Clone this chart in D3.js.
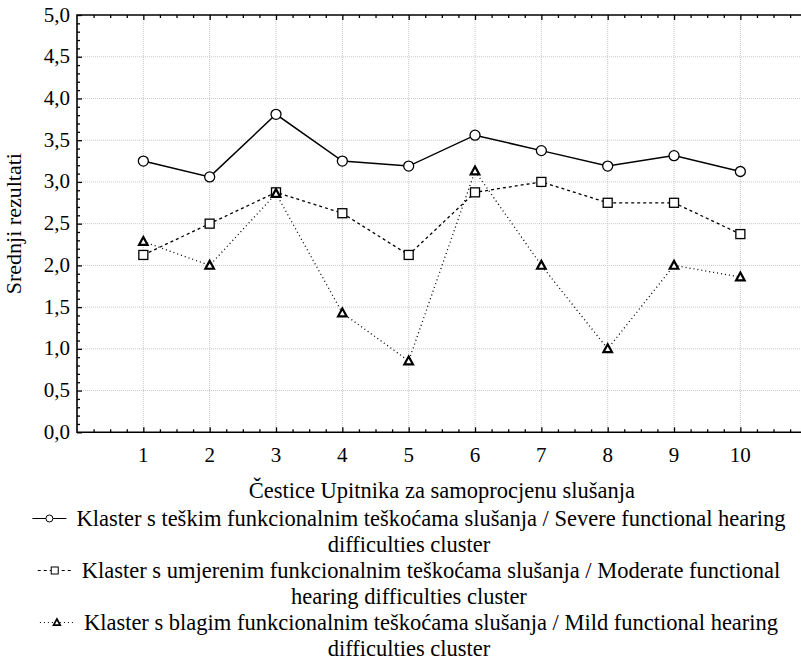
<!DOCTYPE html>
<html>
<head>
<meta charset="utf-8">
<script src="https://cdn.jsdelivr.net/npm/d3@7"></script>
<style>
  body { margin: 0; background: #fff; }
  text { font-family: "Liberation Serif", "Times New Roman", serif; fill: #000; }
  .grid line { stroke: #c8c8c8; stroke-width: 1; stroke-dasharray: 1,1; }
  .line { fill: none; stroke: #000; }
</style>
</head>
<body>
<svg id="chart" width="801" height="662"></svg>
<script>
// item numbers of the questionnaire
var items = [1, 2, 3, 4, 5, 6, 7, 8, 9, 10];

// mean scores per cluster
var severe   = [3.25, 3.06, 3.81, 3.25, 3.19, 3.56, 3.375, 3.19, 3.315, 3.125];
var moderate = [2.125, 2.5, 2.875, 2.625, 2.125, 2.875, 3.0, 2.75, 2.75, 2.375];
var mild     = [2.285, 2.0, 2.86, 1.43, 0.855, 3.13, 2.0, 1.0, 2.0, 1.86];

var yTicks = [0, 0.5, 1, 1.5, 2, 2.5, 3, 3.5, 4, 4.5, 5];

var xTitle = "Čestice Upitnika za samoprocjenu slušanja";
var yTitle = "Srednji rezultati";

var legendLines = [
  ["Klaster s teškim funkcionalnim teškoćama slušanja / Severe functional hearing", "difficulties cluster"],
  ["Klaster s umjerenim funkcionalnim teškoćama slušanja / Moderate functional", "hearing difficulties cluster"],
  ["Klaster s blagim funkcionalnim teškoćama slušanja / Mild functional hearing", "difficulties cluster"]
];

var series = [
  { id: "severe", values: severe, dash: null, marker: "circle" },
  { id: "moderate", values: moderate, dash: "3,3", marker: "square" },
  { id: "mild", values: mild, dash: "1,3", marker: "triangle" }
];

var svg = d3.select("#chart"),
    plot = {left: 77, top: 15, right: 806.7, bottom: 432.3};

var x = d3.scaleLinear().domain([0, 11]).range([plot.left, plot.right]),
    y = d3.scaleLinear().domain([0, 5]).range([plot.bottom, plot.top]);

var fmt = function(d) { return d3.format(".1f")(d).replace(".", ","); };

// grid
var grid = svg.append("g").attr("class", "grid");
grid.selectAll(".gy").data(yTicks.filter(function(d) { return d > 0 && d < 5; }))
  .enter().append("line")
    .attr("x1", plot.left).attr("x2", plot.right)
    .attr("y1", function(d) { return y(d); }).attr("y2", function(d) { return y(d); });
grid.selectAll(".gx").data(items)
  .enter().append("line")
    .attr("y1", plot.top).attr("y2", plot.bottom)
    .attr("x1", function(d) { return x(d); }).attr("x2", function(d) { return x(d); });

// axes: ticks point inward
var xMinor = d3.range(1, 44).map(function(i) { return i / 4; }).filter(function(d) { return d % 1 != 0; });
var yMinor = d3.range(1, 50).map(function(i) { return i / 10; }).filter(function(d) { return Math.round(d * 10) % 5 != 0; });

function noDomain(g) { g.select(".domain").remove(); }

svg.append("g")
    .attr("transform", "translate(0," + plot.bottom + ")")
    .call(d3.axisTop(x).tickValues(items).tickSize(5).tickFormat(""))
    .call(noDomain);
svg.append("g")
    .attr("transform", "translate(0," + plot.bottom + ")")
    .call(d3.axisTop(x).tickValues(xMinor).tickSize(3).tickFormat(""))
    .call(noDomain);
svg.append("g")
    .attr("transform", "translate(0," + plot.top + ")")
    .call(d3.axisBottom(x).tickValues(items).tickSize(5).tickFormat(""))
    .call(noDomain);
svg.append("g")
    .attr("transform", "translate(0," + plot.top + ")")
    .call(d3.axisBottom(x).tickValues(xMinor).tickSize(3).tickFormat(""))
    .call(noDomain);
svg.append("g")
    .attr("transform", "translate(" + plot.left + ",0)")
    .call(d3.axisRight(y).tickValues(yTicks).tickSize(5).tickFormat(""))
    .call(noDomain);
svg.append("g")
    .attr("transform", "translate(" + plot.left + ",0)")
    .call(d3.axisRight(y).tickValues(yMinor).tickSize(3).tickFormat(""))
    .call(noDomain);

svg.selectAll(".tick line").attr("stroke", "#000").attr("stroke-width", 1.3);

// frame (right side falls outside the picture)
svg.append("path")
    .attr("d", "M" + plot.right + "," + plot.top + "H" + plot.left + "V" + plot.bottom + "H" + plot.right)
    .attr("fill", "none").attr("stroke", "#000").attr("stroke-width", 1.6);

// tick labels
svg.selectAll(".ylab").data(yTicks).enter().append("text")
    .attr("x", plot.left - 7).attr("y", function(d) { return y(d) + 6.5; })
    .attr("text-anchor", "end").style("font-size", "21px")
    .text(fmt);
svg.selectAll(".xlab").data(items).enter().append("text")
    .attr("x", function(d) { return x(d); }).attr("y", plot.bottom + 29.5)
    .attr("text-anchor", "middle").style("font-size", "21px")
    .text(function(d) { return d; });

// titles
svg.append("text")
    .attr("transform", "translate(21," + (plot.top + plot.bottom) / 2 + ") rotate(-90)")
    .attr("text-anchor", "middle").style("font-size", "22px")
    .text(yTitle);
svg.append("text")
    .attr("x", (plot.left + plot.right) / 2).attr("y", 498)
    .attr("text-anchor", "middle").style("font-size", "22.5px")
    .text(xTitle);

// lines
var line = d3.line()
    .x(function(d, i) { return x(items[i]); })
    .y(function(d) { return y(d); });

function drawMarker(g, type, size, sw) {
  if (type == "circle") {
    g.append("circle").attr("r", size).attr("fill", "#fff").attr("stroke", "#000").attr("stroke-width", sw);
  } else if (type == "square") {
    g.append("rect").attr("x", -size).attr("y", -size).attr("width", size * 2).attr("height", size * 2)
      .attr("fill", "#fff").attr("stroke", "#000").attr("stroke-width", sw);
  } else {
    g.append("path").attr("d", "M0," + (-size) + "L" + (size * 0.95) + "," + (size * 0.75) + "L" + (-size * 0.95) + "," + (size * 0.75) + "Z")
      .attr("fill", "#fff").attr("stroke", "#000").attr("stroke-width", sw * 1.7).attr("stroke-linejoin", "miter");
  }
}

var s = svg.selectAll(".series").data(series).enter().append("g").attr("class", "series");

s.append("path")
    .attr("class", "line")
    .attr("d", function(d) { return line(d.values); })
    .attr("stroke-width", function(d) { return d.marker == "circle" ? 1.5 : 1.3; })
    .attr("stroke-dasharray", function(d) { return d.dash; });

s.each(function(d) {
  var g = d3.select(this);
  d.values.forEach(function(v, i) {
    var m = g.append("g").attr("transform", "translate(" + x(items[i]) + "," + y(v) + ")");
    drawMarker(m, d.marker, d.marker == "circle" ? 5 : 4.5, 1.3);
  });
});

// legend: each row centered, wrapped line below
var legendCenter = 409, lineH = 26, y0 = 525.5;
legendLines.forEach(function(lines, k) {
  var by = y0 + k * 2 * lineH;
  var t = svg.append("text").attr("y", by).style("font-size", "22.5px").text(lines[0]);
  var w = t.node().getComputedTextLength();
  var symW = 34, gap = 10;
  var x0 = legendCenter - (symW + gap + w) / 2;
  t.attr("x", x0 + symW + gap);
  var sy = by - 7;
  svg.append("line")
      .attr("x1", x0).attr("x2", x0 + symW).attr("y1", sy).attr("y2", sy)
      .attr("stroke", "#000").attr("stroke-width", 1.2)
      .attr("stroke-dasharray", series[k].dash);
  var m = svg.append("g").attr("transform", "translate(" + (x0 + symW / 2) + "," + sy + ")");
  drawMarker(m, series[k].marker, 3.5, 1);
  svg.append("text")
      .attr("x", legendCenter).attr("y", by + lineH)
      .attr("text-anchor", "middle").style("font-size", "22.5px")
      .text(lines[1]);
});
</script>
</body>
</html>
